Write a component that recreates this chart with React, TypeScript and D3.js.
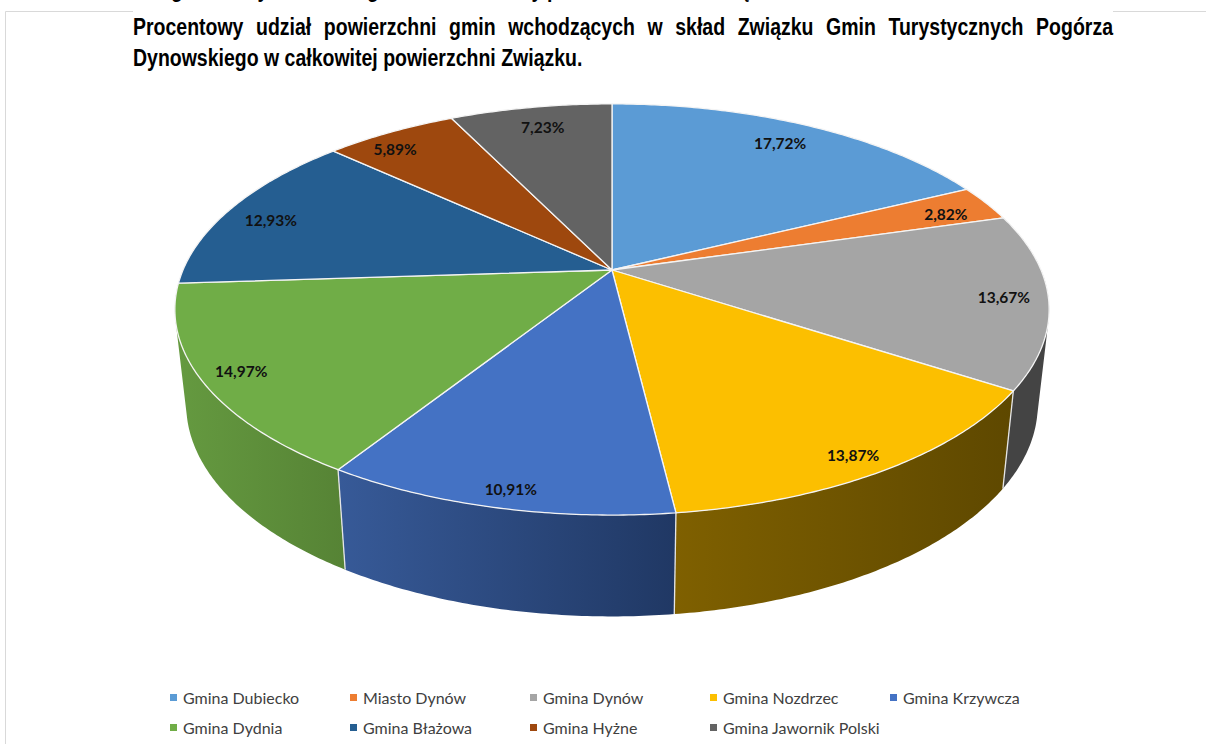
import React, { useEffect, useRef } from "react";
import * as d3 from "d3";

const gminy = ["Gmina Dubiecko", "Miasto Dynów", "Gmina Dynów", "Gmina Nozdrzec", "Gmina Krzywcza", "Gmina Dydnia", "Gmina Błażowa", "Gmina Hyżne", "Gmina Jawornik Polski"];
const udzial = [17.72, 2.82, 13.67, 13.87, 10.91, 14.97, 12.93, 5.89, 7.23];
const titleLines = [
  "Procentowy udział powierzchni gmin wchodzących w skład Związku Gmin Turystycznych Pogórza",
  "Dynowskiego w całkowitej powierzchni Związku.",
];
// only the tails of this cut off line show at the top edge of the picture
const cutOffGlyphs = ["g", "y", "g", "y", "p", "ą"];
const cutOffX = [177, 263, 373, 537, 553, 744];

const colors = ["#5b9bd5", "#ed7d31", "#a5a5a5", "#fcbf00", "#4472c4", "#70ad47", "#255e91", "#9e480e", "#636363"];
// left and right shade of the rim, only slices facing the viewer have one
const rimShades: Record<number, string[]> = {
  2: ["#444444", "#444444"],
  3: ["#7f6000", "#5e4800"],
  4: ["#375a98", "#203864"],
  5: ["#659a40", "#568335"],
};
const labelRadius = [0.855, 0.873, 0.9, 0.925, 0.935, 0.915, 0.876, 0.898, 0.855];
const labelTurn = [-0.4, 1.5, 0, 0.9, -0.7, 0, -2, -3, 0.35]; // degrees

const width = 1206;
const height = 744;
const cx = 612;
const cy = 270;
const R = 429;
const K = 198;
const P = 0.192;
const titleSquash = 0.812; // the title font is a narrow one

// the tilted disc: unit circle to screen, perspective included
function topPoint(a: number, r = 1): [number, number] {
  const u = Math.sin(a) * r;
  const v = -Math.cos(a) * r;
  const w = 1 - P * v;
  return [cx + (R * u) / w, cy + (K * v) / w];
}

// lower rim of the disc, same circle further from the viewer
function bottomPoint(a: number): [number, number] {
  const [x, y] = topPoint(a);
  return [cx + 0.974 * (x - cx), 364 + 1.03 * (y - cy)];
}

function arcAngles(a0: number, a1: number) {
  const n = Math.max(2, Math.ceil((a1 - a0) / 0.01));
  return d3.range(n + 1).map((i) => a0 + ((a1 - a0) * i) / n);
}

const line = d3.line();
const slices = d3.pie<number>().sort(null).value((d) => d)(udzial);
const legendX = d3.scaleLinear().domain([0, 4]).range([170, 890]);
const legendY = d3.scalePoint<number>().domain([0, 1]).range([698, 728]);

// the rim as one path of small quads, so that the fold at the sides is filled too.
// all quads wound the same way, or they cancel out where they overlap at the fold
function rimPath(a0: number, a1: number) {
  return d3.pairs(arcAngles(a0, a1))
    .map(([a, b]) => {
      const quad = [topPoint(a), topPoint(b), bottomPoint(b), bottomPoint(a)];
      if (d3.polygonArea(quad) < 0) quad.reverse();
      return line(quad) + "Z";
    })
    .join("");
}

export default function App() {
  const titleRef = useRef<SVGGElement>(null);

  useEffect(() => {
    // first title line is justified, the gaps get what the words leave over
    const first = d3.select(titleRef.current).select<SVGTextElement>("text");
    const natural = first.node()!.getComputedTextLength();
    const gaps = titleLines[0].split(" ").length - 1;
    first.attr("word-spacing", (980 / titleSquash - natural) / gaps);
  }, []);

  return (
    <svg width={width} height={height} style={{ position: "absolute", left: 0, top: 0, background: "#fff" }}>
      <defs>
        {Object.entries(rimShades).map(([i, shade]) => (
          <linearGradient key={i} id={`rim${i}`} x1="0" x2="1" y1="0" y2="0">
            <stop offset="0" stopColor={shade[0]} />
            <stop offset="1" stopColor={shade[1]} />
          </linearGradient>
        ))}
      </defs>

      <path d="M133,11.5H5.5V744M1113,11.5H1206" fill="none" stroke="#d9d9d9" strokeWidth={1} />

      {cutOffGlyphs.map((g, i) => (
        <text key={i} transform={`translate(${cutOffX[i]},-3) scale(${titleSquash},1)`} textAnchor="middle" fontFamily="Liberation Sans" fontWeight="bold" fontSize={24}>
          {g}
        </text>
      ))}

      <g ref={titleRef} fontFamily="Liberation Sans" fontWeight="bold" fontSize={24} fill="#000">
        {titleLines.map((t, i) => (
          <text key={i} transform={`translate(133,${35 + i * 31}) scale(${titleSquash},1)`}>
            {t}
          </text>
        ))}
      </g>

      {slices.map((s, i) =>
        rimShades[i] ? <path key={i} d={rimPath(s.startAngle, s.endAngle)} fill={`url(#rim${i})`} /> : null
      )}
      {slices.map((s, i) =>
        rimShades[i] ? (
          <path key={i} d={line([topPoint(s.startAngle), bottomPoint(s.startAngle)])!} stroke="#e6e6e6" strokeWidth={1.3} fill="none" />
        ) : null
      )}

      {slices.map((s, i) => {
        const pts: [number, number][] = [[cx, cy], ...arcAngles(s.startAngle, s.endAngle).map((a) => topPoint(a))];
        return <path key={i} d={line(pts)! + "Z"} fill={colors[i]} stroke="#f4f4f4" strokeWidth={1.3} strokeLinejoin="round" />;
      })}

      {slices.map((s, i) => {
        const mid = (s.startAngle + s.endAngle) / 2 + (labelTurn[i] * Math.PI) / 180;
        const [x, y] = topPoint(mid, labelRadius[i]);
        return (
          <text key={i} x={x} y={y} dy="0.35em" textAnchor="middle" fontFamily="Lato" fontWeight="bold" fontSize={15.5} fill="#111">
            {s.value.toFixed(2).replace(".", ",")}%
          </text>
        );
      })}

      {gminy.map((g, i) => {
        const col = i % 5;
        const rowY = legendY(Math.floor(i / 5))!;
        return (
          <g key={g}>
            <rect x={legendX(col)} y={rowY - 4} width={7} height={7} fill={colors[i]} />
            <text x={legendX(col) + 13} y={rowY} dy="0.35em" fontFamily="Lato" fontSize={16} fill="#404040">
              {g}
            </text>
          </g>
        );
      })}
    </svg>
  );
}
